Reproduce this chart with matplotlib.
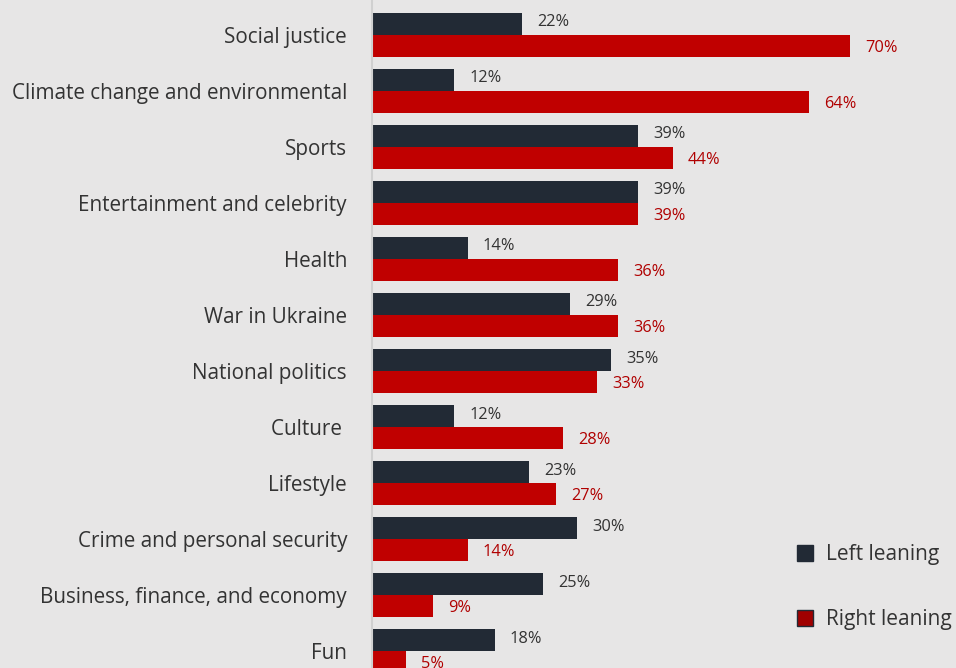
import matplotlib.pyplot as plt
import numpy as np
from matplotlib.patches import Patch

categories = ["Social justice", "Climate change and environmental", "Sports",
              "Entertainment and celebrity", "Health", "War in Ukraine",
              "National politics", "Culture ", "Lifestyle",
              "Crime and personal security", "Business, finance, and economy", "Fun"]
left_leaning = [22, 12, 39, 39, 14, 29, 35, 12, 23, 30, 25, 18]
right_leaning = [70, 64, 44, 39, 36, 36, 33, 28, 27, 14, 9, 5]

bg = "#e7e6e6"
dark = "#222a35"
red = "#c00000"

plt.rcParams["font.family"] = ["Open Sans", "DejaVu Sans"]

fig = plt.figure(figsize=(9.56, 6.68), dpi=100, facecolor=bg)
ax = fig.add_axes([372 / 956, 0, 584 / 956, 1])
ax.set_facecolor(bg)

y = np.arange(len(categories))
h = 0.39
ax.barh(y - h / 2, left_leaning, height=h, color=dark, label="Left leaning")
ax.barh(y + h / 2, right_leaning, height=h, color=red, label="Right leaning")

for i, (l, r) in enumerate(zip(left_leaning, right_leaning)):
    ax.text(l + 2.2, i - h / 2 - 0.03, f"{l}%", va="center", ha="left",
            fontsize=11.8, color="#333333")
    ax.text(r + 2.2, i + h / 2 + 0.03, f"{r}%", va="center", ha="left",
            fontsize=11.8, color="#b00000")

ax.set_xlim(0, 85.5)
ax.set_ylim(11.30, -0.625)
ax.set_yticks(y)
ax.set_yticklabels(categories, fontsize=14.9, color="#333333")
ax.tick_params(axis="y", length=0, pad=18)
ax.set_xticks([])
for s in ["top", "right", "bottom"]:
    ax.spines[s].set_visible(False)
ax.spines["left"].set_color("#d0d0d0")
ax.spines["left"].set_linewidth(1.5)

handles = [Patch(facecolor=dark, edgecolor=dark, label="Left leaning"),
           Patch(facecolor="#a00000", edgecolor=dark, linewidth=1, label="Right leaning")]
fig.legend(handles=handles, loc="center left", bbox_to_anchor=(778 / 956, 1 - 587 / 668),
           frameon=False, fontsize=15, handlelength=0.8, handleheight=0.8,
           labelspacing=2.1, handletextpad=0.6, labelcolor="#333333")

fig.savefig("out.png", dpi=100, facecolor=bg)
